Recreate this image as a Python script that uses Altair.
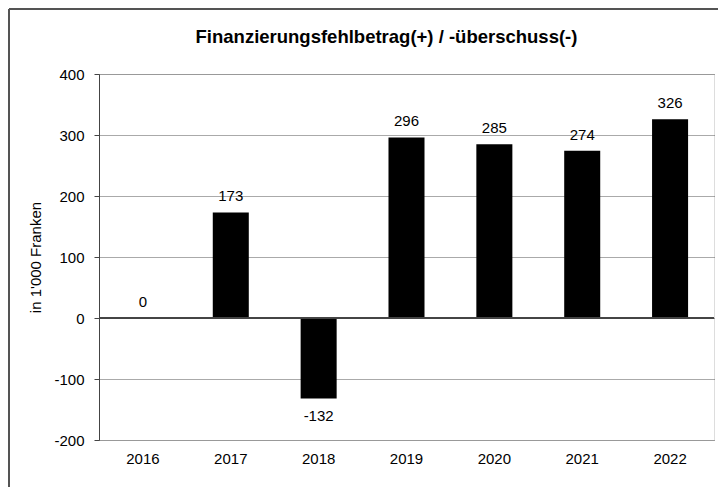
import altair as alt
import pandas as pd

title_text = "Finanzierungsfehlbetrag(+) / -überschuss(-)"
years = ["2016", "2017", "2018", "2019", "2020", "2021", "2022"]
values = [0, 173, -132, 296, 285, 274, 326]
y_ticks = [-200, -100, 0, 100, 200, 300, 400]

df = pd.DataFrame({"year": years, "value": values})

FONT = "Liberation Sans"
DARK = "#444444"

x_enc = alt.X(
    "year:N",
    sort=years,
    scale=alt.Scale(paddingInner=0.59, paddingOuter=0.295),
    axis=alt.Axis(
        title=None, labelAngle=0, ticks=False, domain=False, grid=False,
        labelFontSize=15, labelFont=FONT, labelColor="#000000", labelPadding=11,
    ),
)
y_scale = alt.Scale(domain=[-200, 400], nice=False, zero=False)
y_enc = alt.Y(
    "value:Q",
    scale=y_scale,
    axis=alt.Axis(
        values=y_ticks, title="in 1'000 Franken", titleFontSize=15, titleFont=FONT,
        titleFontWeight="normal", titleColor="#000000", titlePadding=10,
        labelFontSize=15, labelFont=FONT, labelColor="#000000", labelPadding=10,
        labelExpr="datum.value + ''",
        tickSize=5, tickColor=DARK, domainColor=DARK, domainWidth=1,
        grid=True, gridColor="#555555", gridDash=[1, 1], gridWidth=1,
    ),
)

base = alt.Chart(df).transform_calculate(label="datum.value + ''")

bars = base.mark_bar(color="#000000").encode(x=x_enc, y=y_enc)

pos_labels = base.transform_filter(alt.datum.value >= 0).mark_text(
    baseline="bottom", dy=-8, fontSize=15, font=FONT, color="#000000"
).encode(x=alt.X("year:N", sort=years), y=alt.Y("value:Q", scale=y_scale), text="label:N")

neg_labels = base.transform_filter(alt.datum.value < 0).mark_text(
    baseline="top", dy=10, fontSize=15, font=FONT, color="#000000"
).encode(x=alt.X("year:N", sort=years), y=alt.Y("value:Q", scale=y_scale), text="label:N")

zero_line = alt.Chart(df).mark_rule(color=DARK, strokeWidth=1).encode(y=alt.datum(0))

title_mark = alt.Chart(pd.DataFrame({"t": [title_text]})).mark_text(
    font=FONT, fontSize=18.5, fontWeight="bold", color="#000000",
    align="center", baseline="alphabetic",
).encode(text="t:N", x=alt.value(287.5), y=alt.value(-31))

border_top = alt.Chart(df).mark_rule(color="#555555", strokeWidth=1.5).encode(
    x=alt.value(-90), x2=alt.value(800), y=alt.value(-65)
)
border_left = alt.Chart(df).mark_rule(color="#555555", strokeWidth=1.5).encode(
    x=alt.value(-90), y=alt.value(-65), y2=alt.value(600)
)

chart = alt.layer(
    bars, zero_line, pos_labels, neg_labels, title_mark, border_top, border_left
).properties(
    width=615,
    height=366,
    autosize=alt.AutoSizeParams(type="none"),
    padding={"left": 91, "top": 66, "right": 4, "bottom": 47},
).configure_view(stroke="transparent").configure(background="#ffffff")

chart.save("out.html", embed_options={"renderer": "svg", "actions": False})
